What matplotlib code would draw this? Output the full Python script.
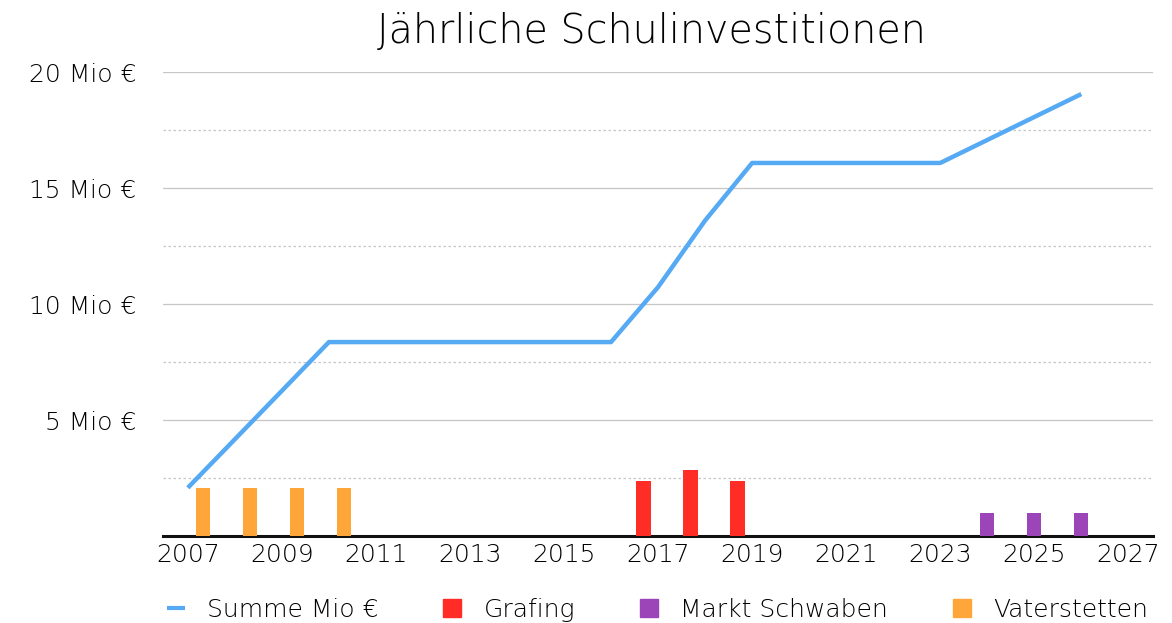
import matplotlib
matplotlib.use("Agg")
import matplotlib.pyplot as plt
from matplotlib.lines import Line2D
import numpy as np

years = list(range(2007, 2027))
summe = [2.08, 4.17, 6.26, 8.36, 8.36, 8.36, 8.36, 8.36, 8.36, 8.36,
         10.73, 13.6, 16.08, 16.08, 16.08, 16.08, 16.08, 17.07, 18.06, 19.05]

grafing_years = [2017, 2018, 2019]
grafing_vals = [2.37, 2.85, 2.37]
markt_years = [2024, 2025, 2026]
markt_vals = [1.0, 1.0, 1.0]
vater_years = [2007, 2008, 2009, 2010]
vater_vals = [2.08, 2.08, 2.08, 2.08]

xticks = [2007, 2009, 2011, 2013, 2015, 2017, 2019, 2021, 2023, 2025, 2027]
yticks = [5, 10, 15, 20]
ytick_labels = ["5 Mio €", "10 Mio €", "15 Mio €", "20 Mio €"]

c_line = "#56aaf4"
c_graf = "#ff2d26"
c_markt = "#9b45b8"
c_vater = "#ffa63a"

plt.rcParams['font.family'] = ['DejaVu Sans']

fig = plt.figure(figsize=(11.72, 6.23), dpi=100)
ax = fig.add_axes([0.139, 0.1396, 0.845, 0.7448])

w = 0.3
ax.bar(np.array(grafing_years) - 0.31, grafing_vals, width=w, color=c_graf, zorder=3)
ax.bar(np.array(markt_years) + 0.0, markt_vals, width=w, color=c_markt, zorder=3)
ax.bar(np.array(vater_years) + 0.33, vater_vals, width=w, color=c_vater, zorder=3)
ax.plot(years, summe, color=c_line, lw=3.2, zorder=4, solid_capstyle='butt')

ax.set_xlim(2006.47, 2027.53)
ax.set_ylim(0, 20)
ax.set_xticks(xticks)
ax.set_xticklabels([str(x) for x in xticks], fontsize=18, fontweight='light', color='#000000')
ax.set_yticks(yticks)
ax.set_yticklabels(ytick_labels, fontsize=18, fontweight='light', color='#000000')
ax.tick_params(axis='both', length=0)
ax.tick_params(axis='y', pad=19)
ax.tick_params(axis='x', pad=5)

for y in yticks:
    ax.axhline(y, color='#c6c6c6', lw=0.9, zorder=1)
for y in [2.5, 7.5, 12.5, 17.5]:
    ax.axhline(y, color='#c6c6c6', lw=0.9, ls=(0, (2, 2)), zorder=1)

for s in ['top', 'right', 'left']:
    ax.spines[s].set_visible(False)
ax.spines['bottom'].set_color('#111111')
ax.spines['bottom'].set_linewidth(2.2)

fig.text(0.5555, 0.95, "Jährliche Schulinvestitionen", ha='center', va='center',
         fontsize=28.5, fontweight='light', color='#000000')

handles = [
    Line2D([0], [0], color=c_line, lw=3, solid_capstyle='butt'),
    Line2D([0], [0], marker='s', ls='', color=c_graf, markersize=13),
    Line2D([0], [0], marker='s', ls='', color=c_markt, markersize=13),
    Line2D([0], [0], marker='s', ls='', color=c_vater, markersize=13),
]
labels = ["Summe Mio €", "Grafing", "Markt Schwaben", "Vaterstetten"]
leg = fig.legend(handles, labels, loc='center', bbox_to_anchor=(0.561, 0.021), ncol=4,
                 frameon=False, prop={'size': 18, 'weight': 'light'}, handlelength=0.7,
                 handletextpad=0.9, columnspacing=2.6)
for t in leg.get_texts():
    t.set_color('#000000')

fig.savefig("out.png", dpi=100)
